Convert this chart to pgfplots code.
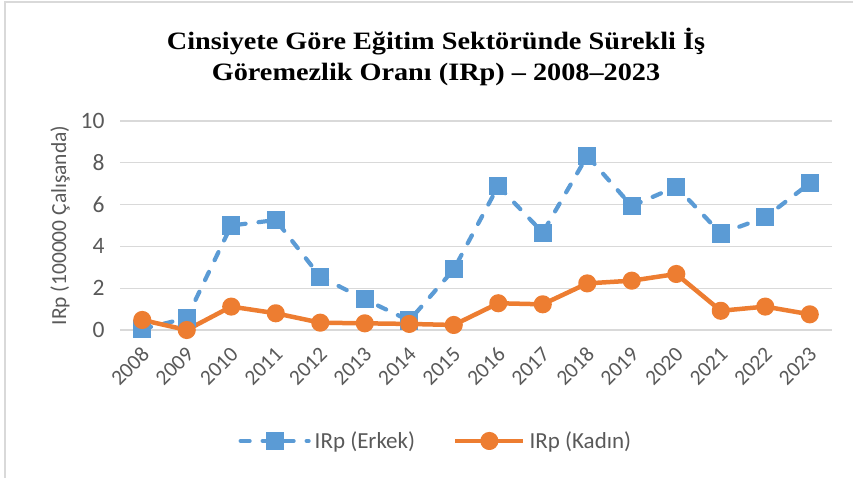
\documentclass[border=0pt]{standalone}
\usepackage{fontspec}
\setmainfont{Carlito}
\newfontfamily\titlefont[FakeStretch=1.13]{Liberation Serif}
\usepackage{pgfplots}
\pgfplotsset{compat=1.18}
\definecolor{erk}{HTML}{5B9BD5}
\definecolor{kad}{HTML}{ED7D31}
\definecolor{gridc}{HTML}{D9D9D9}
\definecolor{txt}{HTML}{595959}
\begin{document}
\begin{tikzpicture}
\path[use as bounding box] (0pt,0pt) rectangle (853pt,477pt);
\draw[gridc, line width=1.5pt] (5pt,-10pt) -- (5pt,475pt) -- (870pt,475pt);
\node[font=\titlefont\bfseries\fontsize{25}{31.5}\selectfont, align=center] at (436pt,420pt) {Cinsiyete Göre Eğitim Sektöründe Sürekli İş\\Göremezlik Oranı (IRp) – 2008–2023};
\begin{axis}[at={(120pt,147pt)}, anchor=south west, scale only axis, width=712pt, height=209pt,
  xmin=-0.5, xmax=15.5, ymin=0, ymax=10, ytick={0,2,4,6,8,10}, xtick={0,...,15},
  xticklabels={2008,2009,2010,2011,2012,2013,2014,2015,2016,2017,2018,2019,2020,2021,2022,2023},
  /pgf/number format/assume math mode=true,
  axis line style={draw=none}, major tick style={draw=none},
  ymajorgrids, grid style={gridc, line width=1.3pt},
  x tick label style={rotate=45, anchor=east, inner sep=1pt, font=\fontsize{21.5}{21.5}\selectfont, text=txt, xshift=-11.3pt, yshift=-17pt},
  y tick label style={font=\fontsize{23.5}{23.5}\selectfont, text=txt, xshift=-12pt},
  ylabel={IRp (100000 Çalışanda)},
  ylabel style={at={(axis description cs:-0.0843,0.5)}, anchor=center, font=\fontsize{21.5}{21.5}\selectfont, text=txt},
  legend style={at={(axis description cs:0.445,-0.531)}, anchor=center, draw=none, fill=none,
    font=\fontsize{23}{23}\selectfont, text=txt, nodes={inner sep=4pt},
    /tikz/every even column/.append style={column sep=34pt}},
  legend columns=2,
  legend image code/.code={\draw[mark repeat=2,mark phase=2,#1] plot coordinates {(0pt,0pt) (34pt,0pt) (68pt,0pt)};},
  clip=false
]
\addplot[erk, line width=4.2pt, line cap=round, dash pattern=on 9pt off 13pt, mark=square*, mark size=7pt, mark options={solid, fill=erk}]
  coordinates {(0,0.05) (1,0.57) (2,5.0) (3,5.26) (4,2.55) (5,1.47) (6,0.45) (7,2.9) (8,6.89) (9,4.66) (10,8.33) (11,5.93) (12,6.86) (13,4.62) (14,5.39) (15,7.02)};
\addlegendentry{IRp (Erkek)}
\addplot[kad, line width=4.5pt, line join=round, mark=*, mark size=6.8pt, mark options={solid, fill=kad}]
  coordinates {(0,0.48) (1,0.0) (2,1.12) (3,0.8) (4,0.35) (5,0.32) (6,0.29) (7,0.24) (8,1.28) (9,1.23) (10,2.23) (11,2.36) (12,2.68) (13,0.92) (14,1.12) (15,0.75)};
\addlegendentry{IRp (Kadın)}
\end{axis}
\end{tikzpicture}
\end{document}
